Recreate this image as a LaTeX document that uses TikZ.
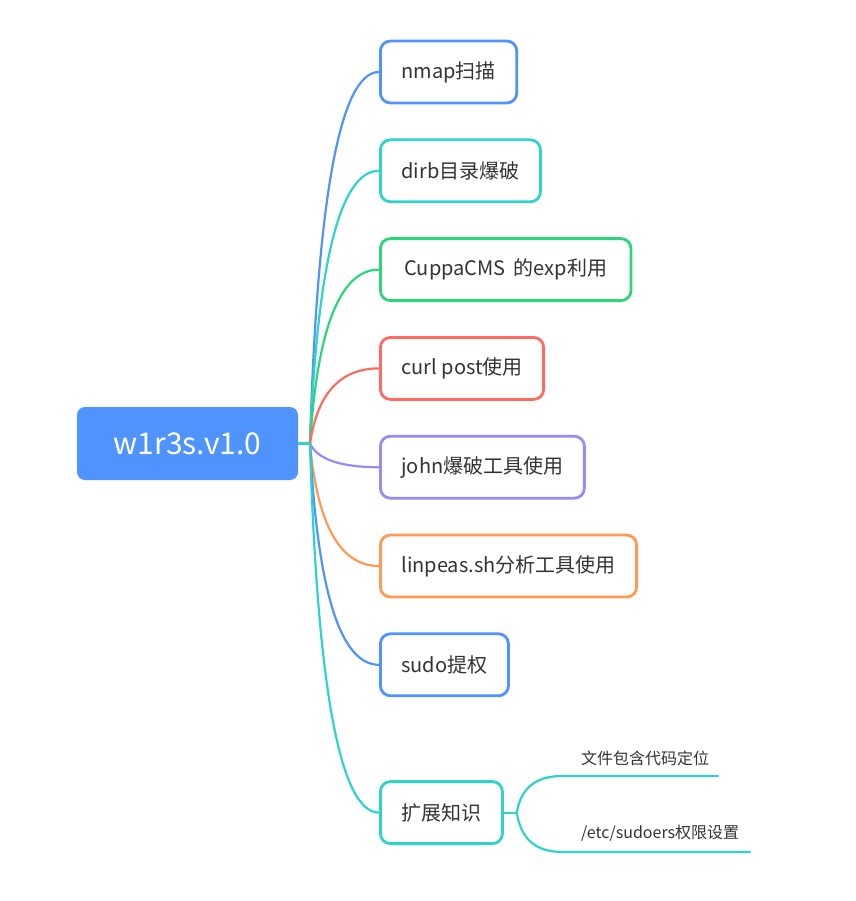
\documentclass[tikz,border=0pt]{standalone}
\usepackage{fontspec}
\setmainfont{Noto Sans CJK SC}
\usepackage{xcolor}
\usetikzlibrary{positioning,calc}

\definecolor{mmblue}{HTML}{4F93FF}
\definecolor{mmteal}{HTML}{2ED3CC}
\definecolor{mmgreen}{HTML}{2BD67B}
\definecolor{mmred}{HTML}{FF6B60}
\definecolor{mmpurple}{HTML}{9B8AF6}
\definecolor{mmorange}{HTML}{FF9A54}
\definecolor{mmtext}{HTML}{333333}

\begin{document}
\begin{tikzpicture}[
  x=1pt, y=-1pt,
  root/.style={fill=mmblue, rounded corners=8pt, minimum width=221pt,
    minimum height=73pt, text=white, font=\fontsize{30}{33}\selectfont},
  topic/.style={draw, line width=2.8pt, rounded corners=10pt, fill=white,
    minimum height=62pt, inner xsep=21pt, text=mmtext,
    font=\fontsize{20}{23}\selectfont},
  sub/.style={inner sep=0pt, anchor=south west, text=mmtext,
    font=\fontsize{16}{19}\selectfont},
  cnn/.style={line width=2.2pt, line cap=round}
]
\useasboundingbox (0,0) rectangle (855,901);

% centre topic
\node[root] (root) at (187.5,443.5) {w1r3s.v1.0};
\coordinate (hub) at (310,443.5);

% main topics
\node[topic, draw=mmblue, anchor=west] (nmap) at (379,72) {nmap扫描};
\node[topic, draw=mmteal, below=34pt of nmap.south west, anchor=north west] (dirb) {dirb目录爆破};
\node[topic, draw=mmgreen, below=34pt of dirb.south west, anchor=north west, inner xsep=24pt] (cuppa) {CuppaCMS\hspace{0.4em}的exp利用};
\node[topic, draw=mmred, below=34pt of cuppa.south west, anchor=north west] (curl) {curl post使用};
\node[topic, draw=mmpurple, below=34pt of curl.south west, anchor=north west] (john) {john爆破工具使用};
\node[topic, draw=mmorange, below=34pt of john.south west, anchor=north west] (linpeas) {linpeas.sh分析工具使用};
\node[topic, draw=mmblue, below=34pt of linpeas.south west, anchor=north west] (sudo) {sudo提权};
\node[topic, draw=mmteal, below=83pt of sudo.south west, anchor=north west] (ext) {扩展知识};

% branches
\draw[cnn, mmteal] (root.east) -- (hub);
\foreach \t/\c in {nmap/mmblue, dirb/mmteal, cuppa/mmgreen, curl/mmred,
    john/mmpurple, linpeas/mmorange, sudo/mmblue, ext/mmteal}
  \draw[cnn, \c] (hub)
    .. controls ($(hub)!.667!([xshift=11pt]hub |- \t.west)$)
    and ($(\t.west)!.667!([xshift=11pt]hub |- \t.west)$) .. (\t.west);

% sub topics of ext
\coordinate (extj) at ([xshift=13pt]ext.east);
\coordinate (incL) at (562,776);
\coordinate (incR) at (718,776);
\coordinate (sudL) at (562,852);
\coordinate (sudR) at (750,852);
\node[sub] (inc) at (581,766) {文件包含代码定位};
\node[sub] (sudoers) at (581,842) {/etc/sudoers权限设置};
\draw[cnn, mmteal] (ext.east) -- (extj);
\draw[cnn, mmteal] (extj)
  .. controls ($(extj)!.667!([xshift=6pt]extj |- incL)$)
  and ($(incL)!.667!([xshift=6pt]extj |- incL)$) .. (incL) -- (incR);
\draw[cnn, mmteal] (extj)
  .. controls ($(extj)!.667!([xshift=6pt]extj |- sudL)$)
  and ($(sudL)!.667!([xshift=6pt]extj |- sudL)$) .. (sudL) -- (sudR);
\end{tikzpicture}
\end{document}
